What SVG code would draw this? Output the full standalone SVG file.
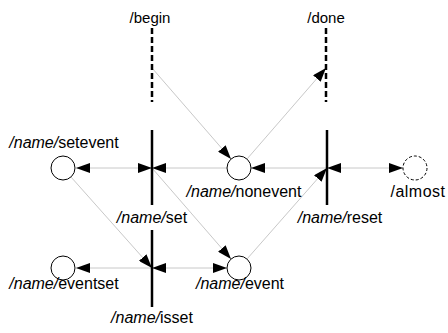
<svg xmlns="http://www.w3.org/2000/svg" width="448" height="333" viewBox="0 0 448 333">
<style>
text{font-family:"Liberation Sans",Arial,sans-serif;font-size:16px;fill:#000;text-anchor:middle}
.t{font-size:15px}
.i{font-style:italic}
.c{fill:#fff;stroke:#000;stroke-width:1}
.d{stroke-dasharray:3,2}
.bar{stroke:#000;stroke-width:2.5}
.dbar{stroke:#000;stroke-width:2.5;stroke-dasharray:6,3}
.e{stroke:#c8c8c8;stroke-width:1;fill:none}
.a{marker-end:url(#ah)}
.b{marker-start:url(#ah);marker-end:url(#ah)}
</style>
<defs>
<marker id="ah" viewBox="0 0 14 10" refX="14" refY="5" markerWidth="14" markerHeight="10" markerUnits="userSpaceOnUse" orient="auto-start-reverse">
<path d="M0,0 L14,5 L0,10 z" fill="#000"/>
</marker>
</defs>
<g id="connectors">
<line class="e b" x1="76" y1="168" x2="152" y2="168"/>
<line class="e a" x1="227" y1="168" x2="152" y2="168"/>
<line class="e a" x1="327" y1="168" x2="251" y2="168"/>
<line class="e b" x1="327" y1="168" x2="403" y2="168"/>
<line class="e a" x1="152" y1="268" x2="76" y2="268"/>
<line class="e b" x1="152" y1="268" x2="227" y2="268"/>
<line class="e a" x1="71" y1="177" x2="152" y2="268"/>
<line class="e a" x1="152" y1="168" x2="231" y2="259"/>
<line class="e a" x1="247" y1="259" x2="327" y2="168"/>
<line class="e a" x1="152" y1="68" x2="231" y2="159"/>
<line class="e a" x1="247" y1="159" x2="326" y2="68"/>
</g>
<g id="begin"><line class="dbar" x1="152" y1="28" x2="152" y2="102"/><text class="t" x="150" y="23">/begin</text></g>
<g id="done"><line class="dbar" x1="326" y1="28" x2="326" y2="102"/><text class="t" x="326" y="23">/done</text></g>
<g id="set"><line class="bar" x1="152" y1="130" x2="152" y2="205"/><text x="152" y="223"><tspan class="i">/name/</tspan>set</text></g>
<g id="isset"><line class="bar" x1="152" y1="230" x2="152" y2="307"/><text x="152" y="323"><tspan class="i">/name/</tspan>isset</text></g>
<g id="reset"><line class="bar" x1="327" y1="130" x2="327" y2="205"/><text x="340" y="223"><tspan class="i">/name/</tspan>reset</text></g>
<g id="setevent"><circle class="c" cx="63" cy="168" r="12"/><text x="64" y="148"><tspan class="i">/name/</tspan>setevent</text></g>
<g id="nonevent"><circle class="c" cx="239" cy="168" r="12"/><text x="244" y="197"><tspan class="i">/name/</tspan>nonevent</text></g>
<g id="almost"><circle class="c d" cx="415" cy="168" r="12"/><text x="418" y="197" letter-spacing="0.5">/almost</text></g>
<g id="eventset"><circle class="c" cx="63" cy="268" r="12"/><text x="64" y="289"><tspan class="i">/name/</tspan>eventset</text></g>
<g id="event"><circle class="c" cx="239" cy="268" r="12"/><text x="240" y="289"><tspan class="i">/name/</tspan>event</text></g>
</svg>
